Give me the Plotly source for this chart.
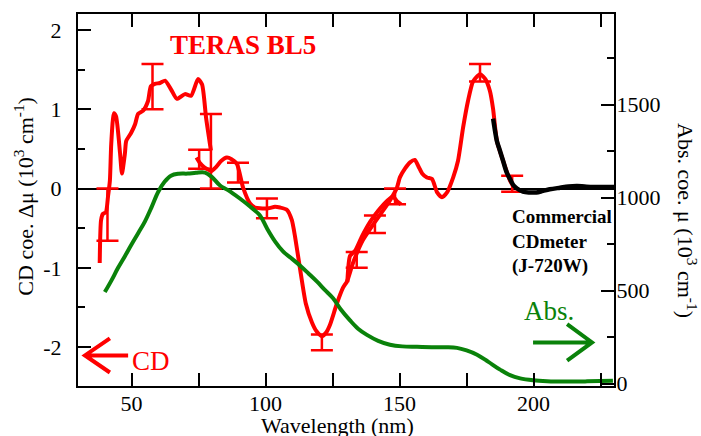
import plotly.graph_objects as go

# ---------------- data ----------------
# CD (TERAS BL5) segment 1 : wavelength (nm), CD coefficient (10^3 cm^-1)
cd1_nm = [38.1, 38.6, 39.3, 40.4, 41.2, 41.9, 42.4, 43.4, 44.2, 45.7, 46.4, 47.5, 48.0, 49.8,
          51.3, 52.4, 54.3, 56.1, 57.2, 58.7, 60.6, 62.5, 64.7, 66.9, 69.9, 72.2, 74.8, 76.3,
          77.8, 79.6]
cd1_val = [-0.94, -0.40, -0.32, -0.30, -0.10, 0.10, 0.56, 0.95, 0.91, 0.44, 0.19, 0.44, 0.60, 0.70,
           0.81, 0.94, 0.98, 1.10, 1.29, 1.32, 1.33, 1.36, 1.25, 1.13, 1.19, 1.17, 1.38, 1.31,
           0.89, 0.48]

# CD segment 2
cd2_nm = [74.2, 75.5, 77.0, 78.5, 79.8, 81.5, 83.5, 85.5, 87.3, 89.3, 91.6, 94.2, 96.0, 97.9,
          101.0, 103.5, 105.4, 108.0, 109.8, 111.0, 112.8, 115.0, 117.3, 119.0, 121.0, 122.5,
          124.0, 126.6, 128.9, 130.4, 132.6, 136.3, 140.0, 143.8, 146.4, 149.0, 150.1, 152.0,
          153.9, 155.7, 157.0, 158.4, 160.2, 162.1, 164.0, 165.8, 167.7, 170.0, 171.8, 173.7,
          175.5, 177.4, 180.0, 182.0, 183.7, 184.9, 186.3, 188.6, 191.2, 193.0]
cd2_val = [0.39, 0.32, 0.27, 0.24, 0.22, 0.27, 0.35, 0.39, 0.37, 0.31, 0.01, -0.19, -0.24, -0.25,
           -0.25, -0.23, -0.24, -0.27, -0.40, -0.61, -1.00, -1.45, -1.69, -1.80, -1.86, -1.82,
           -1.72, -1.45, -1.25, -1.17, -0.94, -0.65, -0.46, -0.28, -0.15, 0.01, 0.14, 0.25,
           0.33, 0.36, 0.28, 0.19, 0.14, 0.12, -0.05, -0.11, -0.05, 0.14, 0.35, 0.77,
           1.10, 1.35, 1.44, 1.38, 1.23, 1.00, 0.60, 0.35, 0.10, 0.00]

# CD segment 3 (overlapping scan)
cd3_nm = [130.5, 131.5, 133.5, 136.0, 139.0, 142.0, 145.5, 147.5, 149.0, 150.5]
cd3_val = [-1.18, -0.85, -0.78, -0.60, -0.42, -0.28, -0.15, -0.10, -0.16, -0.20]

# Error bars
err_nm = [41.0, 57.8, 75.2, 79.6, 89.7, 100.5, 121.0, 134.0, 140.8, 148.3, 180.0, 192.0]
err_val = [-0.33, 1.285, 0.37, 0.47, 0.20, -0.25, -1.94, -0.90, -0.45, -0.10, 1.46, 0.06]
err_size = [0.33, 0.285, 0.12, 0.47, 0.125, 0.125, 0.10, 0.10, 0.11, 0.10, 0.11, 0.10]

# Commercial CD meter (J-720W)
com_nm = [184.9, 185.5, 186.3, 187.5, 188.6, 190.0, 191.2, 192.5, 193.8, 196.0, 198.7, 201.0,
          203.5, 206.0, 209.9, 213.0, 216.2, 219.0, 222.2, 226.0, 230.0]
com_val = [0.88, 0.75, 0.60, 0.47, 0.35, 0.20, 0.12, 0.04, 0.00, -0.04, -0.05, -0.05,
           -0.03, -0.01, 0.01, 0.025, 0.03, 0.025, 0.02, 0.02, 0.02]

# Absorption coefficient (10^3 cm^-1), right axis
abs_nm = [40.0, 42.5, 44.9, 47.5, 49.8, 52.5, 55.0, 57.5, 59.9, 62.3, 64.7, 67.5, 71.0, 74.0,
          77.4, 80.0, 83.0, 86.0, 90.4, 94.2, 97.9, 100.5, 103.5, 106.5, 109.5, 112.8, 116.0,
          119.2, 122.0, 125.1, 128.0, 131.5, 134.5, 137.8, 142.0, 146.4, 151.0, 156.5, 162.0,
          167.0, 171.4, 175.0, 178.9, 183.0, 187.5, 191.2, 195.0, 199.8, 205.0, 212.0, 220.0,
          229.6]
abs_val = [492, 555, 621, 685, 744, 810, 872, 950, 1030, 1085, 1118, 1128, 1129, 1133,
           1134, 1110, 1065, 1040, 995, 952, 904, 835, 765, 711, 675, 635, 592,
           548, 505, 460, 400, 340, 295, 262, 230, 209, 200, 198, 196,
           195, 192, 178, 155, 118, 75, 45, 28, 18, 13, 11, 12,
           15]

x_ticks = [50, 100, 150, 200]
y_ticks = [-2, -1, 0, 1, 2]
y_ticktext = ["-2", "-1", "0", "1", "2"]
y2_ticks = [0, 500, 1000, 1500]

RED = "#ff0000"
GREEN = "#0a820a"
FONT = "Liberation Serif, DejaVu Serif, serif"

fig = go.Figure()

fig.add_trace(go.Scatter(x=abs_nm, y=abs_val, mode="lines", yaxis="y2",
                         line=dict(color=GREEN, width=4, shape="spline"), showlegend=False))
for xs, ys in [(cd1_nm, cd1_val), (cd2_nm, cd2_val), (cd3_nm, cd3_val)]:
    fig.add_trace(go.Scatter(x=xs, y=ys, mode="lines",
                             line=dict(color=RED, width=4, shape="spline", smoothing=0.6),
                             showlegend=False))
fig.add_trace(go.Scatter(x=err_nm, y=err_val, mode="markers",
                         marker=dict(size=1, color=RED, opacity=0),
                         error_y=dict(type="data", array=err_size, color=RED, thickness=2.5, width=11),
                         showlegend=False))
fig.add_trace(go.Scatter(x=com_nm, y=com_val, mode="lines",
                         line=dict(color="black", width=4.5, shape="spline"), showlegend=False))

axis_common = dict(showline=True, linecolor="black", linewidth=2, showgrid=False,
                   ticks="inside", tickcolor="black", tickwidth=1.5, ticklen=13,
                   tickfont=dict(family=FONT, size=22, color="black"))

fig.update_layout(
    width=701, height=436,
    margin=dict(l=78, r=87, t=12, b=50),
    paper_bgcolor="white", plot_bgcolor="white",
    font=dict(family=FONT, color="black"),
    xaxis=dict(range=[30, 230], tickvals=x_ticks, mirror="allticks", zeroline=False,
               ticklabelstandoff=-3,
               minor=dict(tickvals=[75, 125, 175, 225], ticks="inside", ticklen=7,
                          tickcolor="black", tickwidth=1.5),
               **axis_common),
    yaxis=dict(range=[-2.49, 2.2], tickvals=y_ticks, ticktext=y_ticktext, mirror=True,
               zeroline=True, zerolinecolor="black", zerolinewidth=2,
               ticklabelstandoff=10,
               minor=dict(tickvals=[-1.5, -0.5, 0.5, 1.5], ticks="inside", ticklen=7,
                          tickcolor="black", tickwidth=1.5),
               **axis_common),
    yaxis2=dict(range=[-13, 1987], tickvals=y2_ticks, overlaying="y", side="right",
                zeroline=False, ticklabelstandoff=-4,
                minor=dict(tickvals=[250, 750, 1250, 1750], ticks="inside", ticklen=7,
                           tickcolor="black", tickwidth=1.5),
                **axis_common),
)

annotations = [
    dict(text="Wavelength (nm)", xref="paper", yref="paper", x=0.485, y=-0.105,
         xanchor="center", yanchor="middle", showarrow=False,
         font=dict(family=FONT, size=22, color="black")),
    dict(text="CD coe. \u0394\u03bc (10<sup>3</sup> cm<sup>-1</sup>)", xref="paper", yref="paper",
         x=-0.1, y=0.51, xanchor="center", yanchor="middle", textangle=-90, showarrow=False,
         font=dict(family=FONT, size=22, color="black")),
    dict(text="Abs. coe. \u03bc (10<sup>3</sup> cm<sup>-1</sup>)", xref="paper", yref="paper",
         x=1.135, y=0.445, xanchor="center", yanchor="middle", textangle=90, showarrow=False,
         font=dict(family=FONT, size=22, color="black")),
    dict(text="<b>TERAS BL5</b>", xref="x", yref="y", x=91.4, y=1.81,
         xanchor="center", yanchor="middle", showarrow=False,
         font=dict(family=FONT, size=27, color=RED)),
    dict(text="<b>Commercial<br>CDmeter<br>(J-720W)</b>", xref="x", yref="y", x=191.2, y=-0.67,
         xanchor="left", yanchor="middle", align="left", showarrow=False,
         font=dict(family=FONT, size=19, color="black")),
    dict(text="CD", xref="x", yref="y", x=57.3, y=-2.18,
         xanchor="center", yanchor="middle", showarrow=False,
         font=dict(family=FONT, size=27, color=RED)),
    dict(text="Abs.", xref="x", yref="y", x=205.8, y=-1.54,
         xanchor="center", yanchor="middle", showarrow=False,
         font=dict(family=FONT, size=27, color=GREEN)),
]
fig.update_layout(annotations=annotations)

shapes = [
    dict(type="path", xref="x", yref="y",
         path="M 41.9,-1.89 L 32.6,-2.105 L 41.9,-2.32 M 32.6,-2.105 L 48.7,-2.105",
         line=dict(color=RED, width=4)),
    dict(type="path", xref="x", yref="y",
         path="M 212.5,-1.71 L 221.8,-1.94 L 212.5,-2.17 M 221.8,-1.94 L 199.8,-1.94",
         line=dict(color=GREEN, width=4)),
]
fig.update_layout(shapes=shapes)

fig.write_html("out.html", config={"displayModeBar": False},
               post_script="document.body.style.margin='0';")
